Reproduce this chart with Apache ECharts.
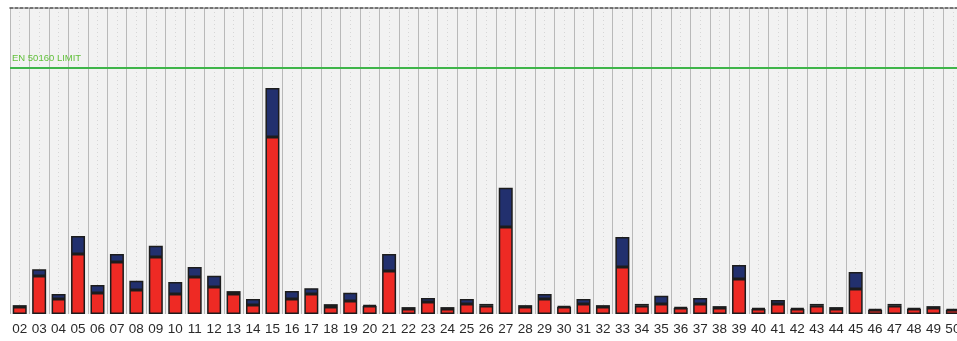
<!DOCTYPE html>
<html>
<head>
<meta charset="utf-8">
<script src="https://cdn.jsdelivr.net/npm/echarts@6/dist/echarts.min.js"></script>
<style>
  html, body { margin: 0; padding: 0; background: #ffffff; }
  #chart { width: 957px; height: 341px; }
</style>
</head>
<body>
<div id="chart"></div>
<script>
// Harmonic orders 02..50
const harmonics = ['02','03','04','05','06','07','08','09','10','11','12','13','14','15','16','17','18','19','20','21','22','23','24','25','26','27','28','29','30','31','32','33','34','35','36','37','38','39','40','41','42','43','44','45','46','47','48','49','50'];

// Level in % of the EN 50160 limit: lower (red) part
const redPart = [2.8,15.4,6.1,24.4,8.5,21.1,9.8,23.2,8.1,15.0,11.0,8.1,3.7,72.0,6.1,8.1,2.8,5.3,3.3,17.5,2.0,4.9,2.0,4.1,3.3,35.4,2.8,6.1,2.8,4.1,2.8,19.1,3.3,4.1,2.4,4.1,2.4,14.2,2.0,4.1,2.0,3.3,2.0,10.2,1.6,3.3,2.0,2.4,1.6];

// Upper (navy) part stacked on top
const navyPart = [0.8,2.8,2.0,7.3,3.3,3.3,3.7,4.5,4.9,4.1,4.5,1.2,2.4,19.9,3.3,2.4,1.2,3.3,0.4,6.9,0.8,1.6,0.8,2.0,0.8,15.9,0.8,2.0,0.4,2.0,0.8,12.2,0.8,3.3,0.4,2.4,0.8,5.7,0.4,1.6,0.4,0.8,0.8,6.9,0.4,0.8,0.4,0.8,0.4];

const limitValue = 100;
const limitLabel = 'EN 50160 LIMIT';

const chart = echarts.init(document.getElementById('chart'), null, { renderer: 'canvas' });

chart.setOption({
  animation: false,
  backgroundColor: '#ffffff',
  grid: {
    left: 10, top: 8, width: 952.6, height: 306,
    outerBoundsMode: 'none', containLabel: false,
    show: true, backgroundColor: '#f2f2f2', borderWidth: 0
  },
  xAxis: [
    {
      type: 'category',
      data: harmonics,
      boundaryGap: true,
      axisLine: { show: false },
      axisTick: { show: false },
      splitLine: { show: false },
      axisLabel: {
        interval: 0, margin: 8,
        color: '#2a2a2a', fontFamily: 'Liberation Sans, Arial, sans-serif', fontSize: 13.5
      }
    },
    {
      // grid lines: solid at column boundaries, dotted at column centres
      type: 'value',
      position: 'top',
      min: 0, max: harmonics.length, interval: 1,
      axisLabel: { show: false },
      axisTick: { show: false },
      axisLine: { show: true, lineStyle: { color: '#4a4a4a', width: 1.5, type: [3, 2] } },
      splitLine: { show: true, lineStyle: { color: '#b9b9b9', width: 1 } },
      minorTick: { show: false, splitNumber: 2 },
      minorSplitLine: { show: true, lineStyle: { color: '#d6d6d6', width: 1, type: [1, 3] } }
    }
  ],
  yAxis: {
    type: 'value', min: 0, max: 124.4,
    show: false, splitLine: { show: false }
  },
  series: [
    {
      type: 'bar', stack: 'h', xAxisIndex: 0,
      data: redPart, barWidth: '72%',
      itemStyle: { color: '#ee2a24', borderColor: '#1c1c1c', borderWidth: 1.5 },
      markLine: {
        silent: true, symbol: 'none',
        lineStyle: { color: '#3fb54a', width: 2, type: 'solid' },
        label: {
          show: true, position: 'insideStartTop', formatter: limitLabel,
          color: '#62c13c', fontSize: 9.5, fontFamily: 'Liberation Sans, Arial, sans-serif',
          distance: [2, 5]
        },
        data: [{ yAxis: limitValue }]
      }
    },
    {
      type: 'bar', stack: 'h', xAxisIndex: 0,
      data: navyPart, barWidth: '72%',
      itemStyle: { color: '#22306e', borderColor: '#1c1c1c', borderWidth: 1.5 }
    }
  ]
});
</script>
</body>
</html>
